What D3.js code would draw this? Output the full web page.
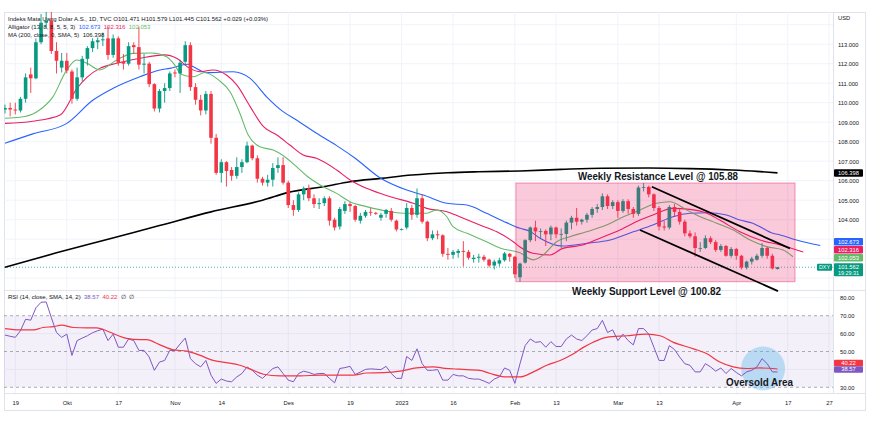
<!DOCTYPE html>
<html>
<head>
<meta charset="utf-8">
<script src="https://cdn.jsdelivr.net/npm/d3@7"></script>
<style>
  body { margin: 0; background: #fff; }
  svg { display: block; font-family: "Liberation Sans", Arial, sans-serif; }
</style>
</head>
<body>
<svg id="chart" width="870" height="426"></svg>
<script>
// daily bars, index 0 = 15 Sep 2022 ... index 150 = 13 Apr 2023
var opens = [109.65,109.73,109.65,109.60,110.20,111.45,111.25,113.10,114.10,114.20,
  112.65,111.80,112.15,111.60,110.20,111.30,112.25,112.80,113.10,113.20,
  113.30,112.45,113.30,112.10,112.00,112.95,112.85,111.95,112.00,110.95,
  109.70,110.60,110.75,111.55,111.50,112.10,112.95,110.80,110.15,109.60,
  110.45,108.20,106.40,106.95,106.55,106.25,106.70,106.95,107.80,107.15,
  106.10,105.90,106.05,106.65,106.80,105.90,104.75,104.50,105.30,105.60,
  105.10,104.80,104.85,105.10,104.00,103.65,104.45,104.80,104.70,103.95,
  104.20,104.40,104.35,104.10,104.30,104.45,103.95,103.50,103.60,104.60,
  104.25,105.10,103.90,103.05,103.25,103.20,102.25,102.20,102.30,102.40,
  102.35,101.98,102.05,102.10,101.95,101.65,101.75,101.92,102.25,102.10,
  101.05,101.80,102.95,103.60,103.40,103.42,103.25,103.60,103.25,103.27,
  103.85,104.10,103.90,104.00,104.25,104.55,104.65,105.20,104.70,104.90,
  104.45,104.95,104.55,104.30,105.65,105.68,105.30,104.60,103.65,103.60,
  104.65,104.40,103.90,103.30,103.15,102.55,102.55,103.05,102.85,102.45,
  102.65,102.15,102.50,102.15,101.55,101.85,101.95,102.15,102.55,102.15,
  101.471];
var highs = [109.90,110.00,110.00,110.30,111.50,111.80,113.30,114.55,114.70,114.78,
  113.10,112.55,112.55,111.70,111.80,112.40,112.90,113.30,113.35,113.60,
  113.90,113.50,113.40,112.50,113.10,113.10,113.90,112.50,112.10,111.00,
  110.70,111.00,111.60,111.70,112.20,113.15,113.10,111.00,110.40,110.60,
  110.60,108.40,107.10,107.00,106.70,107.20,107.10,108.00,107.85,107.30,
  106.20,106.30,106.90,107.20,107.20,106.00,105.00,105.40,105.70,105.80,
  105.30,105.10,105.20,105.20,104.10,104.65,104.95,104.90,104.75,104.35,
  104.50,104.60,104.40,104.35,104.55,104.60,104.00,103.55,104.85,104.75,
  105.60,105.30,103.95,103.45,103.45,103.25,102.55,102.45,102.50,102.90,
  102.45,102.20,102.25,102.20,102.00,101.95,102.05,102.35,102.30,102.15,
  101.80,103.00,103.65,103.95,103.55,103.50,103.70,103.65,103.55,103.95,
  104.20,104.60,104.05,104.35,104.65,104.80,105.35,105.30,105.00,105.00,
  105.05,105.05,104.65,105.75,105.88,105.75,105.35,104.70,103.95,104.75,
  104.80,104.55,104.00,103.45,103.35,102.85,103.20,103.15,102.95,102.75,
  102.70,102.60,102.55,102.20,101.90,102.10,102.25,102.80,102.60,102.25,
  101.579];
var lows = [109.45,109.30,109.40,109.50,110.00,110.50,111.20,113.00,113.80,112.50,
  111.50,111.55,111.50,109.95,110.10,111.10,111.90,112.60,112.75,112.90,
  112.20,112.30,111.90,111.70,111.90,112.50,111.70,111.50,110.80,109.55,
  109.50,110.00,110.60,111.30,110.50,111.90,110.60,109.90,109.35,109.40,
  107.90,106.30,105.90,105.70,106.00,106.10,106.40,106.90,107.05,105.90,
  105.75,105.70,105.70,106.40,105.80,104.60,104.20,104.40,105.00,104.95,
  104.60,104.55,104.70,103.70,103.45,103.50,104.30,104.40,103.90,103.80,
  104.10,104.20,104.25,103.95,104.10,103.90,103.40,103.45,103.50,104.00,
  104.10,103.80,102.90,102.95,103.00,102.10,101.95,102.00,102.05,101.60,
  101.95,101.80,101.80,101.85,101.55,101.45,101.60,101.85,101.85,101.00,
  100.82,101.75,102.85,102.90,103.05,102.65,102.95,103.05,102.55,102.90,
  103.50,103.70,103.75,103.85,104.10,104.35,104.50,104.55,104.55,104.10,
  104.35,104.30,104.10,104.20,105.45,105.15,104.45,103.45,103.45,103.50,
  104.15,103.75,103.15,103.05,102.10,102.35,102.50,102.75,102.35,102.35,
  102.10,102.05,101.95,101.45,101.45,101.70,101.90,102.05,102.00,101.45,
  101.445];
var closes = [109.73,109.65,109.60,110.20,111.30,111.25,113.10,114.10,114.20,112.65,
  112.15,112.15,111.65,110.20,111.30,112.25,112.80,113.15,113.20,113.25,
  112.45,113.30,112.05,112.00,112.90,112.85,111.95,112.00,110.95,109.70,
  110.60,110.75,111.50,111.50,112.05,112.95,110.80,110.15,109.60,110.45,
  108.20,106.40,106.95,106.50,106.25,106.70,106.95,107.80,107.15,106.10,
  105.90,106.05,106.65,106.80,105.90,104.75,104.50,105.30,105.60,105.10,
  104.80,104.85,105.10,103.95,103.60,104.55,104.80,104.70,104.00,104.20,
  104.40,104.38,104.30,104.25,104.50,104.00,103.50,103.52,104.60,104.25,
  105.10,103.90,103.05,103.25,103.20,102.25,102.20,102.35,102.40,102.35,
  102.05,102.05,102.10,101.95,101.65,101.85,101.92,102.27,102.10,101.20,
  101.75,102.95,103.60,103.40,103.42,103.25,103.60,103.25,103.27,103.85,
  104.10,103.90,104.00,104.25,104.55,104.65,105.20,104.70,104.90,104.45,
  104.95,104.55,104.30,105.65,105.68,105.30,104.60,103.65,103.60,104.65,
  104.40,103.90,103.30,103.15,102.55,102.55,103.05,102.85,102.45,102.65,
  102.15,102.50,102.15,101.55,101.85,102.00,102.15,102.55,102.15,101.50,
  101.562];

// RSI(14) per bar
var rsi = [59.2,58.5,57.9,61.6,68.0,67.5,74.4,77.5,77.7,68.9,
  60.6,57.9,59.7,47.8,56.1,57.5,58.8,60.5,61.6,62.5,
  56.1,59.7,52.4,52.4,57.0,56.1,50.6,50.6,46.9,39.5,
  44.1,45.0,50.6,50.6,54.2,57.5,46.0,43.2,41.4,45.0,
  36.8,32.2,34.6,33.5,33.1,35.8,37.7,41.4,39.5,36.8,
  35.0,37.7,40.5,41.4,37.7,34.0,33.1,37.7,39.0,38.3,
  37.2,37.7,37.7,35.0,32.5,40.5,41.0,41.7,37.2,38.5,
  40.0,40.3,40.1,39.9,41.7,37.7,35.0,35.0,47.2,45.0,
  51.5,43.2,39.5,39.5,39.9,34.0,34.0,37.2,36.4,36.4,
  35.0,34.6,34.6,33.5,32.2,34.6,35.8,40.8,39.5,32.2,
  43.2,53.3,57.0,55.1,55.5,52.4,55.5,52.8,52.8,57.0,
  59.2,57.0,56.1,58.8,62.0,62.8,67.4,60.6,62.1,56.1,
  59.7,56.1,53.7,62.8,62.8,59.7,52.4,45.0,45.0,53.3,
  51.1,46.9,43.2,42.3,38.6,38.6,43.2,41.4,39.0,40.8,
  37.7,40.5,38.3,36.4,38.6,39.5,41.4,46.0,43.2,38.6,
  38.57];
// RSI signal (SMA 14), read as [bar, value]
var rsiSignal = [[0,62.8],[2.9,62.1],[5.5,62.1],[7.4,63.4],[9.4,63.9],[11,64.7],[13.3,63.4],
  [15.9,63.2],[17.8,63.2],[19.7,61.6],[21.7,59.2],[23.6,57.3],[26.2,56.6],[27.5,56.6],
  [30.1,53.7],[32.7,50.9],[35.3,50.2],[37.9,47.8],[40.4,45.0],[43,43.8],[45.6,42.3],
  [48.2,39.5],[50.2,37.3],[53.4,36.4],[57.3,36.4],[61.2,36.8],[63.7,36.8],[67.6,36.8],
  [70.2,38.0],[73.5,38.2],[76.7,39.0],[79.9,40.8],[83.2,41.4],[85.4,40.6],[88.3,40.1],
  [92.2,39.5],[94.2,37.7],[97.4,35.8],[100,35.8],[102.6,38.6],[105.2,42.3],[107.8,45.0],
  [110.4,48.7],[112.3,52.3],[114.2,55.2],[116.8,57.9],[120.7,58.8],[124.6,59.7],
  [127.2,58.8],[129.8,55.1],[133.7,51.5],[136.3,48.7],[138.8,44.1],[141.4,41.4],
  [144,40.5],[146.6,40.8],[150,40.22]];

// Alligator (jaw / teeth / lips, already shifted) and MA 200, read as [bar, price]
var jaw = [[0,107.92],[5.4,108.4],[12,108.94],[17.1,110.14],[21,110.74],[26.2,111.33],
  [30.1,111.68],[32,111.76],[35.5,111.97],[36.5,111.85],[39.2,111.54],[44.3,111.59],
  [47.6,111.25],[50.8,110.3],[54,109.54],[56.6,109.11],[60.5,108.43],[64.4,107.8],
  [68,107.15],[72.8,106.15],[78,105.52],[81.2,105.27],[85.8,104.84],[89.7,104.75],
  [93.5,104.33],[97.4,103.85],[100,103.56],[102,103.4],[103.9,103.05],[108.3,102.65],
  [113,102.79],[117.5,102.96],[122,103.38],[125.8,103.73],[129.7,104.15],[133,104.33],
  [136.3,104.36],[140.1,104.24],[142.7,103.98],[145.2,103.82],[146.6,103.64],
  [149.1,103.3],[150.5,103.22],[153.7,102.96],[158.3,102.68]];
var teeth = [[0,108.94],[5.4,109.05],[10.7,109.37],[14,110.74],[15.9,111.3],[18.4,111.76],
  [21.7,112.02],[26.2,112.28],[31,112.45],[33.3,112.28],[35.9,111.76],[37.9,111.59],
  [40.4,111.68],[43,111.42],[45,110.91],[47.6,109.8],[50.2,108.77],[52.8,108.34],
  [55.3,107.83],[57.9,107.32],[60.5,107.15],[64.4,106.55],[67,106.04],[70.2,105.61],
  [74.8,105.18],[79.3,104.84],[81.9,104.58],[85.8,104.41],[88.3,104.15],[92.2,103.73],
  [95.5,103.38],[98.7,102.87],[100,102.6],[102.5,102.28],[105.8,102.19],[108.3,102.53],
  [112.2,102.7],[115.5,103.05],[119.4,103.47],[123.3,103.98],[125.8,104.24],
  [129.7,104.58],[133,104.53],[136.3,104.33],[138.8,103.98],[142.7,103.38],
  [146.6,102.96],[150.5,102.7],[155,102.34]];
var lips = [[0,109.2],[2.9,109.25],[6.2,109.54],[9.3,110.3],[12,111.68],[13.9,112.19],
  [15.9,112.02],[18.4,111.68],[21.7,112.19],[24.9,112.53],[28.5,112.55],[31.4,112.36],
  [32.7,112.02],[34.3,111.45],[36.6,111.33],[38.8,111.55],[41.5,111.16],[43.7,110.56],
  [45.6,109.46],[47.2,108.35],[49.5,107.74],[52.1,107.57],[54.7,107.15],[56.6,106.72],
  [58.8,106.2],[61.2,105.78],[64.4,105.35],[67,104.92],[70.2,104.67],[74.8,104.41],
  [78,104.33],[81.9,104.33],[83.8,104.5],[85.8,104.15],[87,103.64],[89.7,103.3],
  [93.5,102.87],[96.1,102.55],[100,102.3],[102.6,101.94],[104.5,102.19],[107.1,102.87],
  [109.7,103.13],[112.9,103.38],[116.8,103.73],[120.1,104.15],[123.3,104.5],
  [126.5,104.84],[129.1,104.92],[132.4,104.5],[135,104.15],[138.2,103.82],
  [141.4,103.47],[144.7,102.96],[147.9,102.62],[151.1,102.45],[153,102.1]];
var ma200 = [[0,101.56],[10,102.3],[20,103.0],[30,103.7],[40,104.4],[50,105.0],[55,105.4],
  [62,105.7],[67,105.95],[73,106.12],[79,106.29],[86,106.41],[92,106.46],[100,106.5],
  [108,106.58],[116,106.64],[125,106.65],[133,106.62],[141,106.55],[146,106.48],[150,106.4]];

// annotations
var resistance = 105.88, support = 100.82;
var zoneBars = [99.2, 153.4];
var channelUpper = [[125.6,105.69],[152.4,102.53]];
var channelLower = [[123.3,103.47],[150.1,100.34]];
var oversoldSpot = [147.2, 40.5];

var timeTicks = [2,12,22,33,42,55,67,77,87,99,107,119,127,142,152,160];
var timeLabels = ["19","Okt","17","Nov","14","Des","19","2023","16","Feb","13","Mar","13","Apr","17","27"];
var priceTicks = [101,102,103,104,105,106,107,108,109,110,111,112,113,114];
var priceLabels = [104,105,106,107,108,109,110,111,112,113];   // the rest sit under the value tags
var rsiTicks = [80,70,60,50,30];

var svg = d3.select('#chart');
var up = '#089981', down = '#f23645';
var plotL = 4, plotR = 833, mainTop = 12, mainBot = 290, rsiTop = 291, rsiBot = 393;

var x = d3.scaleLinear().domain([0, 150]).range([5, 777.5]);
var y = d3.scaleLinear().domain([100.395, 114.651]).range([mainBot, mainTop]);
var yR = d3.scaleLinear().domain([30, 70]).range([387.3, 315.7]);

// frame
svg.append('rect').attr('x', 4.5).attr('y', 12.5).attr('width', 861).attr('height', 398)
  .attr('fill', '#fff').attr('stroke', '#e0e3eb');

var defs = svg.append('defs');
defs.append('clipPath').attr('id', 'clipMain').append('rect')
  .attr('x', plotL).attr('y', mainTop).attr('width', plotR - plotL).attr('height', mainBot - mainTop);
defs.append('clipPath').attr('id', 'clipRsi').append('rect')
  .attr('x', plotL).attr('y', rsiTop).attr('width', plotR - plotL).attr('height', rsiBot - rsiTop);

// grid
var grid = svg.append('g').attr('stroke', '#f0f3fa').attr('stroke-width', 1);
grid.selectAll('line.v').data(timeTicks).enter().append('line')
  .attr('x1', function(d){ return x(d); }).attr('x2', function(d){ return x(d); })
  .attr('y1', mainTop).attr('y2', rsiBot);
grid.selectAll('line.h').data(priceTicks).enter().append('line')
  .attr('x1', plotL).attr('x2', plotR)
  .attr('y1', function(d){ return y(d); }).attr('y2', function(d){ return y(d); });
grid.selectAll('line.r').data([80,60,40]).enter().append('line')
  .attr('x1', plotL).attr('x2', plotR)
  .attr('y1', function(d){ return yR(d); }).attr('y2', function(d){ return yR(d); });

// separators
svg.append('line').attr('x1', 4).attr('x2', 866).attr('y1', 290.5).attr('y2', 290.5).attr('stroke', '#e0e3eb');
svg.append('line').attr('x1', 4).attr('x2', 866).attr('y1', 393.5).attr('y2', 393.5).attr('stroke', '#e0e3eb');
svg.append('line').attr('x1', 833.5).attr('x2', 833.5).attr('y1', 12).attr('y2', 393).attr('stroke', '#e0e3eb');

var main = svg.append('g').attr('clip-path', 'url(#clipMain)');

// last price dotted line
main.append('line').attr('x1', plotL).attr('x2', plotR)
  .attr('y1', y(closes[150])).attr('y2', y(closes[150]))
  .attr('stroke', up).attr('stroke-opacity', 0.7).attr('stroke-dasharray', '1,2');

var line = d3.line()
  .x(function(d){ return x(d[0]); })
  .y(function(d){ return y(d[1]); })
  .curve(d3.curveMonotoneX);

main.append('path').attr('d', line(ma200)).attr('fill', 'none').attr('stroke', '#000').attr('stroke-width', 1.6);
main.append('path').attr('d', line(jaw)).attr('fill', 'none').attr('stroke', '#2962ff').attr('stroke-width', 1.1);
main.append('path').attr('d', line(teeth)).attr('fill', 'none').attr('stroke', '#e91e63').attr('stroke-width', 1.1);
main.append('path').attr('d', line(lips)).attr('fill', 'none').attr('stroke', '#66bb6a').attr('stroke-width', 1.1);

// candles
var bars = main.append('g');
bars.selectAll('line').data(closes).enter().append('line')
  .attr('x1', function(d, i){ return x(i); })
  .attr('x2', function(d, i){ return x(i); })
  .attr('y1', function(d, i){ return y(highs[i]); })
  .attr('y2', function(d, i){ return y(lows[i]); })
  .attr('stroke', function(d, i){ return d >= opens[i] ? up : down; })
  .attr('stroke-width', 0.9);
bars.selectAll('rect').data(closes).enter().append('rect')
  .attr('x', function(d, i){ return x(i) - 1.8; })
  .attr('width', 3.6)
  .attr('y', function(d, i){ return y(Math.max(d, opens[i])); })
  .attr('height', function(d, i){ return Math.max(0.8, Math.abs(y(d) - y(opens[i]))); })
  .attr('fill', function(d, i){ return d >= opens[i] ? up : down; });

// weekly zone
svg.append('rect')
  .attr('x', x(zoneBars[0])).attr('width', x(zoneBars[1]) - x(zoneBars[0]))
  .attr('y', y(resistance)).attr('height', y(support) - y(resistance))
  .attr('fill', '#e91e63').attr('fill-opacity', 0.24)
  .attr('stroke', '#e91e63').attr('stroke-opacity', 0.45);

// channel
[channelUpper, channelLower].forEach(function(c){
  svg.append('line')
    .attr('x1', x(c[0][0])).attr('y1', y(c[0][1]))
    .attr('x2', x(c[1][0])).attr('y2', y(c[1][1]))
    .attr('stroke', '#000').attr('stroke-width', 1.8);
});

svg.append('text').attr('x', 578).attr('y', y(resistance) - 3)
  .attr('font-size', 11.5).attr('font-weight', 'bold').attr('fill', '#131722')
  .attr('textLength', 160).attr('lengthAdjust', 'spacingAndGlyphs')
  .text('Weekly Resistance Level @ 105.88');
svg.append('text').attr('x', 572).attr('y', 295)
  .attr('font-size', 11.5).attr('font-weight', 'bold').attr('fill', '#131722')
  .attr('textLength', 149).attr('lengthAdjust', 'spacingAndGlyphs')
  .text('Weekly Support Level @ 100.82');

// RSI pane
var rsiG = svg.append('g').attr('clip-path', 'url(#clipRsi)');
rsiG.append('rect').attr('x', plotL).attr('width', plotR - plotL)
  .attr('y', yR(70)).attr('height', yR(30) - yR(70))
  .attr('fill', '#7e57c2').attr('fill-opacity', 0.09);
rsiG.selectAll('line.band').data([70, 50, 30]).enter().append('line')
  .attr('x1', plotL).attr('x2', plotR)
  .attr('y1', function(d){ return yR(d); }).attr('y2', function(d){ return yR(d); })
  .attr('stroke', '#787b86').attr('stroke-opacity', 0.6).attr('stroke-dasharray', '3,3');

rsiG.append('circle')
  .attr('cx', x(oversoldSpot[0])).attr('cy', yR(oversoldSpot[1])).attr('r', 22)
  .attr('fill', '#4fb3e8').attr('fill-opacity', 0.35);

var rsiLine = d3.line()
  .x(function(d, i){ return x(i); })
  .y(function(d){ return yR(d); });
rsiG.append('path').attr('d', rsiLine(rsi)).attr('fill', 'none').attr('stroke', '#7e57c2').attr('stroke-width', 1);
var sigLine = d3.line()
  .x(function(d){ return x(d[0]); })
  .y(function(d){ return yR(d[1]); })
  .curve(d3.curveMonotoneX);
rsiG.append('path').attr('d', sigLine(rsiSignal)).attr('fill', 'none').attr('stroke', '#f23645').attr('stroke-width', 1.2);

svg.append('text').attr('x', 726).attr('y', 386)
  .attr('font-size', 11).attr('font-weight', 'bold').attr('fill', '#131722')
  .attr('textLength', 67).attr('lengthAdjust', 'spacingAndGlyphs')
  .text('Oversold Area');

// axes
var pAxis = svg.append('g').attr('transform', 'translate(833,0)')
  .call(d3.axisRight(y).tickValues(priceLabels).tickFormat(d3.format('.3f')).tickSize(0).tickPadding(5));
pAxis.select('.domain').remove();
pAxis.selectAll('text').attr('font-size', 5.8).attr('fill', '#131722').attr('font-family', 'Liberation Sans, Arial');

var rAxis = svg.append('g').attr('transform', 'translate(833,0)')
  .call(d3.axisRight(yR).tickValues(rsiTicks).tickFormat(d3.format('.2f')).tickSize(0).tickPadding(7));
rAxis.select('.domain').remove();
rAxis.selectAll('text').attr('font-size', 5.8).attr('fill', '#131722').attr('font-family', 'Liberation Sans, Arial');

var tAxis = svg.append('g').attr('transform', 'translate(0,398)')
  .call(d3.axisBottom(x).tickValues(timeTicks).tickFormat(function(d, i){ return timeLabels[i]; }).tickSize(0).tickPadding(3));
tAxis.select('.domain').remove();
tAxis.selectAll('text').attr('font-size', 5.8).attr('fill', '#131722').attr('font-family', 'Liberation Sans, Arial');

svg.append('text').attr('x', 838).attr('y', 20).attr('font-size', 5.8).attr('fill', '#131722').text('USD');

// value tags on the scale
function tag(yc, label, bg, fg, h){
  h = h || 7.5;
  svg.append('rect').attr('x', 834).attr('y', yc - h / 2).attr('width', 29).attr('height', h)
    .attr('rx', 1).attr('fill', bg);
  svg.append('text').attr('x', 848.5).attr('y', yc + 2).attr('text-anchor', 'middle')
    .attr('font-size', 5.8).attr('fill', fg).text(label);
}
tag(y(106.398), '106.398', '#000', '#fff');
var gTag = y(102.053), rTag = Math.min(y(102.316), gTag - 8), bTag = Math.min(y(102.673), rTag - 8);
tag(bTag, '102.673', '#2962ff', '#fff');
tag(rTag, '102.316', '#e91e63', '#fff');
tag(gTag, '102.053', '#66bb6a', '#fff');

var lastY = y(closes[150]);
svg.append('rect').attr('x', 834).attr('y', lastY - 4).attr('width', 29).attr('height', 13).attr('rx', 1).attr('fill', up);
svg.append('text').attr('x', 848.5).attr('y', lastY + 2).attr('text-anchor', 'middle').attr('font-size', 5.8).attr('fill', '#fff').text('101.562');
svg.append('text').attr('x', 848.5).attr('y', lastY + 7.5).attr('text-anchor', 'middle').attr('font-size', 5.4).attr('fill', '#fff').text('19:29:31');
svg.append('rect').attr('x', 817).attr('y', lastY - 3.5).attr('width', 15).attr('height', 7).attr('rx', 1).attr('fill', up);
svg.append('text').attr('x', 824.5).attr('y', lastY + 2).attr('text-anchor', 'middle').attr('font-size', 5.4).attr('fill', '#fff').text('DXY');

var sigTagY = yR(38.57) - 2.5;
tag(sigTagY - 6.5, '40.22', '#f23645', '#fff', 6.5);
tag(sigTagY, '38.57', '#7e57c2', '#fff', 6.5);

// legends
var lg = svg.append('g').attr('font-size', 6).attr('fill', '#131722');
var l1 = lg.append('text').attr('x', 8).attr('y', 21);
l1.append('tspan').text('Indeks Mata Uang Dolar A.S., 1D, TVC ');
l1.append('tspan').text('O101.471 H101.579 L101.445 C101.562 +0.029 (+0.03%)');
var l2 = lg.append('text').attr('x', 8).attr('y', 29).attr('xml:space', 'preserve');
l2.append('tspan').text('Alligator (13, 8, 8, 5, 5, 3)  ');
l2.append('tspan').attr('fill', '#2962ff').text('102.673  ');
l2.append('tspan').attr('fill', '#e91e63').text('102.316  ');
l2.append('tspan').attr('fill', '#66bb6a').text('102.053');
var l3 = lg.append('text').attr('x', 8).attr('y', 37).attr('xml:space', 'preserve');
l3.append('tspan').text('MA (200, close, 0, SMA, 5)  106.398');
var l4 = lg.append('text').attr('x', 8).attr('y', 299).attr('xml:space', 'preserve');
l4.append('tspan').text('RSI (14, close, SMA, 14, 2)  ');
l4.append('tspan').attr('fill', '#7e57c2').text('38.57  ');
l4.append('tspan').attr('fill', '#f23645').text('40.22  ');
l4.append('tspan').text('∅  ∅');
</script>
</body>
</html>
